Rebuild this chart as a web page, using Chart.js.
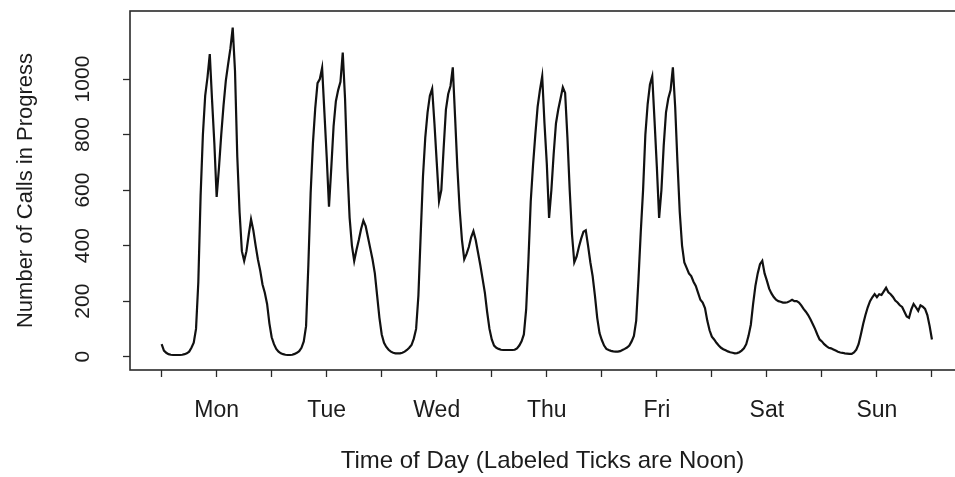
<!DOCTYPE html>
<html>
<head>
<meta charset="utf-8">
<script src="https://cdn.jsdelivr.net/npm/chart.js@4.4.1/dist/chart.umd.min.js"></script>
<style>
  html, body { margin: 0; padding: 0; overflow: hidden; background: #fff; }
  canvas { display: block; }
</style>
</head>
<body>
<canvas id="callsChart" width="955" height="477"></canvas>
<script>
// Puhelut käynnissä, puolen tunnin välein (arvot luettu kuvasta)
const dayNames = ['Mon', 'Tue', 'Wed', 'Thu', 'Fri', 'Sat', 'Sun'];
const yTicks = [0, 200, 400, 600, 800, 1000];
const tickHours = [0, 12, 24, 36, 48, 60, 72, 84, 96, 108, 120, 132, 144, 156, 168];

const monCalls = [45, 22, 14, 9, 7, 6, 6, 6, 6, 7, 9, 12, 18, 32, 50, 100,
  268, 580, 800, 940, 1006, 1090, 923, 768, 575, 680, 800, 905, 994, 1054, 1110, 1185,
  1030, 720, 520, 380, 345, 380, 440, 495, 455, 400, 350, 310, 260, 230, 190, 120];
const tueCalls = [70, 45, 28, 18, 12, 9, 7, 6, 6, 7, 10, 14, 20, 32, 55, 110,
  330, 590, 770, 895, 985, 1000, 1040, 880, 720, 540, 680, 830, 920, 960, 990, 1095,
  930, 680, 500, 400, 345, 385, 420, 460, 490, 470, 430, 390, 350, 300, 220, 140];
const wedCalls = [80, 50, 35, 25, 18, 14, 12, 12, 12, 14, 18, 24, 32, 42, 65, 100,
  220, 440, 650, 790, 880, 940, 965, 840, 700, 560, 600, 750, 890, 946, 975, 1042,
  863, 680, 530, 420, 351, 370, 395, 430, 452, 420, 375, 330, 280, 230, 160, 100];
const thuCalls = [62, 40, 32, 28, 25, 24, 24, 24, 24, 24, 25, 30, 40, 55, 80, 170,
  350, 560, 690, 800, 900, 960, 1010, 840, 696, 500, 600, 730, 840, 890, 930, 970,
  950, 790, 600, 440, 340, 360, 395, 425, 450, 455, 400, 340, 290, 220, 140, 85];
const friCalls = [60, 40, 28, 24, 21, 19, 18, 18, 20, 24, 28, 33, 40, 55, 75, 130,
  280, 450, 600, 800, 910, 980, 1010, 850, 685, 500, 600, 760, 880, 930, 960, 1042,
  900, 700, 520, 400, 339, 320, 300, 290, 270, 255, 230, 205, 195, 175, 130, 95];
const satCalls = [72, 62, 50, 40, 32, 27, 23, 19, 16, 14, 12, 13, 16, 22, 30, 45,
  75, 115, 190, 255, 300, 333, 345, 300, 274, 245, 228, 215, 205, 200, 198, 195,
  195, 196, 200, 205, 200, 200, 195, 185, 172, 162, 150, 135, 118, 100, 80, 62];
// viimeinen arvo = sunnuntain keskiyö
const sunCalls = [55, 45, 38, 32, 30, 26, 22, 18, 15, 14, 12, 11, 10, 10, 15, 25,
  45, 80, 118, 150, 178, 200, 214, 225, 214, 225, 222, 235, 248, 232, 225, 215,
  202, 195, 185, 179, 162, 145, 140, 170, 190, 178, 165, 185, 180, 172, 150, 110, 62];

const weekCalls = [monCalls, tueCalls, wedCalls, thuCalls, friCalls, satCalls, sunCalls];

const points = [];
weekCalls.forEach((day, d) => {
  day.forEach((v, i) => points.push({ x: d * 24 + i * 0.5, y: v }));
});

const ink = '#1c1c1c';
const fontFamily = '"Liberation Sans", Arial, Helvetica, sans-serif';

// laatikko kuvaajan ympärille (oikea reuna jää kuvan ulkopuolelle)
// + pystyakselin kierretyt numerot
const framePlugin = {
  id: 'frame',
  afterDraw(chart) {
    const c = chart.ctx;
    const a = chart.chartArea;
    c.save();
    c.strokeStyle = '#2a2a2a';
    c.lineWidth = 1.6;
    c.strokeRect(a.left, a.top, a.right - a.left + 10, a.bottom - a.top);

    const ys = chart.scales.y;
    c.fillStyle = ink;
    c.font = '21px ' + fontFamily;
    c.textAlign = 'center';
    c.textBaseline = 'middle';
    ys.ticks.forEach(t => {
      c.save();
      c.translate(ys.right - 47, ys.getPixelForValue(t.value));
      c.rotate(-Math.PI / 2);
      c.fillText(String(t.value), 0, 0);
      c.restore();
    });
    c.restore();
  }
};

const ctx = document.getElementById('callsChart').getContext('2d');
new Chart(ctx, {
  type: 'line',
  data: {
    datasets: [{
      label: 'Number of Calls in Progress',
      data: points,
      borderColor: '#111',
      borderWidth: 2.2,
      pointRadius: 0,
      tension: 0,
      fill: false
    }]
  },
  options: {
    responsive: false,
    animation: false,
    layout: { padding: { top: 11, left: 0, right: 0, bottom: 0 } },
    plugins: {
      legend: { display: false },
      tooltip: { enabled: false }
    },
    scales: {
      x: {
        type: 'linear',
        min: -6.9,
        max: 173.03,
        afterFit: scale => { scale.height = 107; },
        afterBuildTicks: scale => { scale.ticks = tickHours.map(h => ({ value: h })); },
        border: { display: false },
        grid: {
          display: true,
          drawOnChartArea: false,
          drawTicks: true,
          tickLength: 7,
          tickColor: '#2a2a2a',
          tickWidth: 1.3
        },
        ticks: {
          autoSkip: false,
          maxRotation: 0,
          padding: 20,
          color: ink,
          font: { family: fontFamily, size: 23 },
          callback: value => (value % 24 === 12 ? dayNames[(value - 12) / 24] : '')
        },
        title: {
          display: true,
          text: 'Time of Day (Labeled Ticks are Noon)',
          color: ink,
          font: { family: fontFamily, size: 24 },
          padding: { top: 0, bottom: 1 }
        }
      },
      y: {
        min: -48,
        max: 1245,
        afterFit: scale => { scale.width = 130; },
        afterBuildTicks: scale => { scale.ticks = yTicks.map(v => ({ value: v })); },
        border: { display: false },
        grid: {
          display: true,
          drawOnChartArea: false,
          drawTicks: true,
          tickLength: 7,
          tickColor: '#2a2a2a',
          tickWidth: 1.3
        },
        ticks: { display: false },
        title: {
          display: true,
          text: 'Number of Calls in Progress',
          color: ink,
          font: { family: fontFamily, size: 22 },
          padding: { top: 13, bottom: 0 }
        }
      }
    }
  },
  plugins: [framePlugin]
});
</script>
</body>
</html>
